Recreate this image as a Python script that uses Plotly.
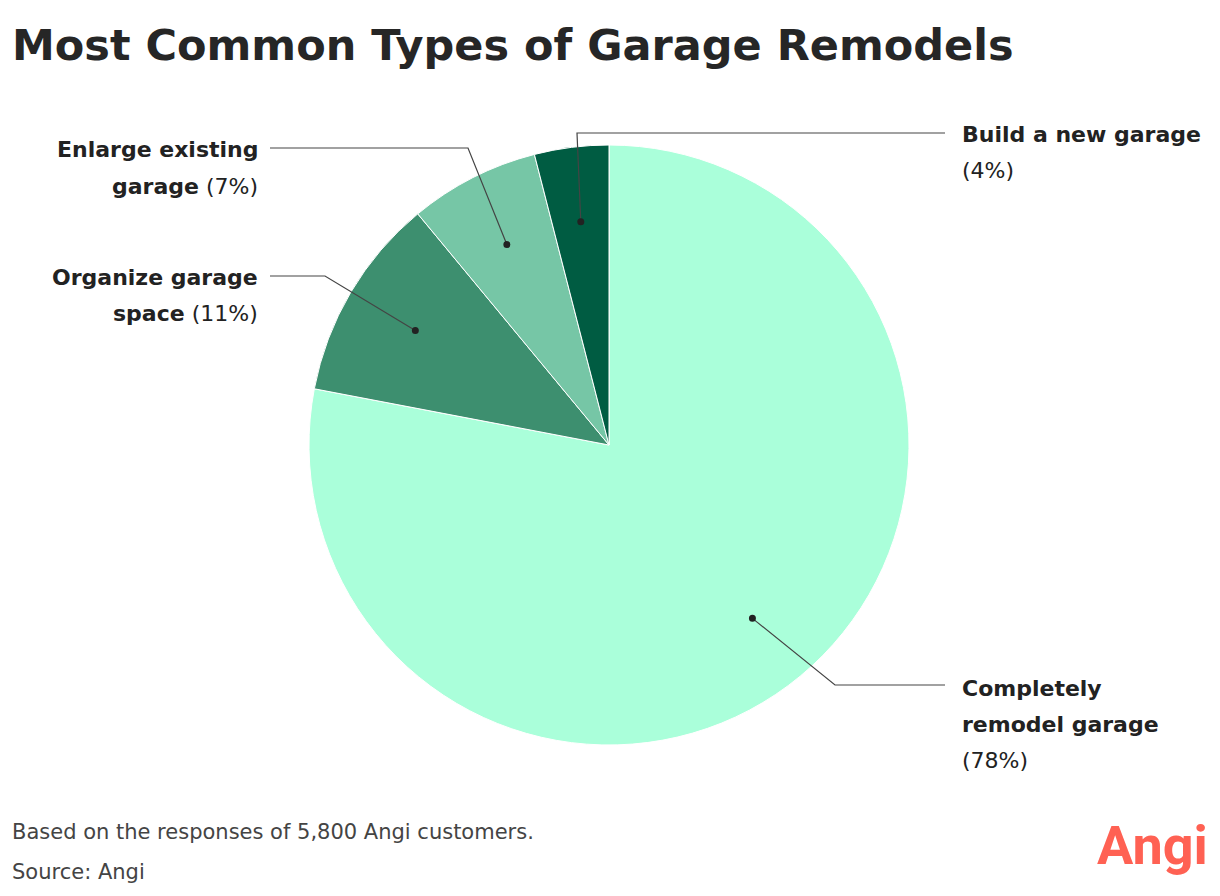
import numpy as np
import plotly.graph_objects as go

labels = ["Completely remodel garage", "Organize garage space", "Enlarge existing garage", "Build a new garage"]
values = [78, 11, 7, 4]
colors = ["#AAFFDA", "#3D8F6F", "#76C6A6", "#005C42"]
label_lines = [
    ["<b>Completely</b>", "<b>remodel garage</b>", "(78%)"],
    ["<b>Organize garage</b>", "<b>space</b> (11%)"],
    ["<b>Enlarge existing</b>", "<b>garage</b> (7%)"],
    ["<b>Build a new garage</b>", "(4%)"],
]

W, H = 1220, 896
OFF = 8  # page body margin
cx, cy, r = 609, 445, 300

def px(x, y):
    return (x - OFF) / W, 1 - (y - OFF) / H

fig = go.Figure(go.Pie(
    labels=labels, values=values, sort=False, direction="clockwise", rotation=0,
    marker=dict(colors=colors, line=dict(color="white", width=1)),
    textinfo="none", showlegend=False, hoverinfo="label+percent",
    domain=dict(x=[px(cx - r, 0)[0], px(cx + r, 0)[0]], y=[px(0, cy + r)[1], px(0, cy - r)[1]]),
))

elbows = [(835, 685), (325, 276), (468, 148), (577, 133)]
ends = [945, 270, 270, 945]
# x, y of first text line, alignment
text_pos = [(960, 688, "left"), (260, 277, "right"), (260, 150, "right"), (960, 135, "left")]

shapes = []
annotations = []
cum = np.cumsum([0] + values[:-1])
for i, v in enumerate(values):
    mid = (cum[i] + v / 2) / sum(values) * 2 * np.pi
    dx = cx + 0.75 * r * np.sin(mid)
    dy = cy - 0.75 * r * np.cos(mid)
    ex, ey = elbows[i]
    pts = [px(dx, dy), px(ex, ey), px(ends[i], ey)]
    path = "M {} {} L {} {} L {} {}".format(*[c for p in pts for c in p])
    shapes.append(dict(type="path", path=path, xref="paper", yref="paper",
                       line=dict(color="#444444", width=1.2)))
    x0, y0 = px(dx, dy)
    shapes.append(dict(type="circle", xref="paper", yref="paper",
                       x0=x0 - 3.5 / W, x1=x0 + 3.5 / W, y0=y0 - 3.5 / H, y1=y0 + 3.5 / H,
                       fillcolor="#222222", line=dict(width=0)))
    tx, ty, al = text_pos[i]
    for j, line in enumerate(label_lines[i]):
        ax, ay = px(tx, ty + 36 * j)
        annotations.append(dict(text=line, x=ax, y=ay, xref="paper", yref="paper",
                                xanchor=al, yanchor="middle", align=al, showarrow=False,
                                font=dict(size=22, color="#222222", family="DejaVu Sans")))

annotations += [
    dict(text="<b>Most Common Types of Garage Remodels</b>", x=px(10, 0)[0], y=px(0, 45)[1],
         xref="paper", yref="paper", xanchor="left", yanchor="middle", showarrow=False,
         font=dict(size=43, color="#262626", family="DejaVu Sans")),
    dict(text="Based on the responses of 5,800 Angi customers.", x=px(10, 0)[0], y=px(0, 832)[1],
         xref="paper", yref="paper", xanchor="left", yanchor="middle", showarrow=False,
         font=dict(size=21, color="#444444", family="DejaVu Sans")),
    dict(text="Source: Angi", x=px(10, 0)[0], y=px(0, 872)[1],
         xref="paper", yref="paper", xanchor="left", yanchor="middle", showarrow=False,
         font=dict(size=21, color="#444444", family="DejaVu Sans")),
    dict(text="<b>Angi</b>", x=px(1210, 0)[0], y=px(0, 845)[1],
         xref="paper", yref="paper", xanchor="right", yanchor="middle", showarrow=False,
         font=dict(size=54, color="#FF6153", family="Roboto")),
]

fig.update_layout(width=W, height=H, margin=dict(l=0, r=0, t=0, b=0),
                  paper_bgcolor="white", plot_bgcolor="white",
                  shapes=shapes, annotations=annotations)
fig.write_html("out.html")
